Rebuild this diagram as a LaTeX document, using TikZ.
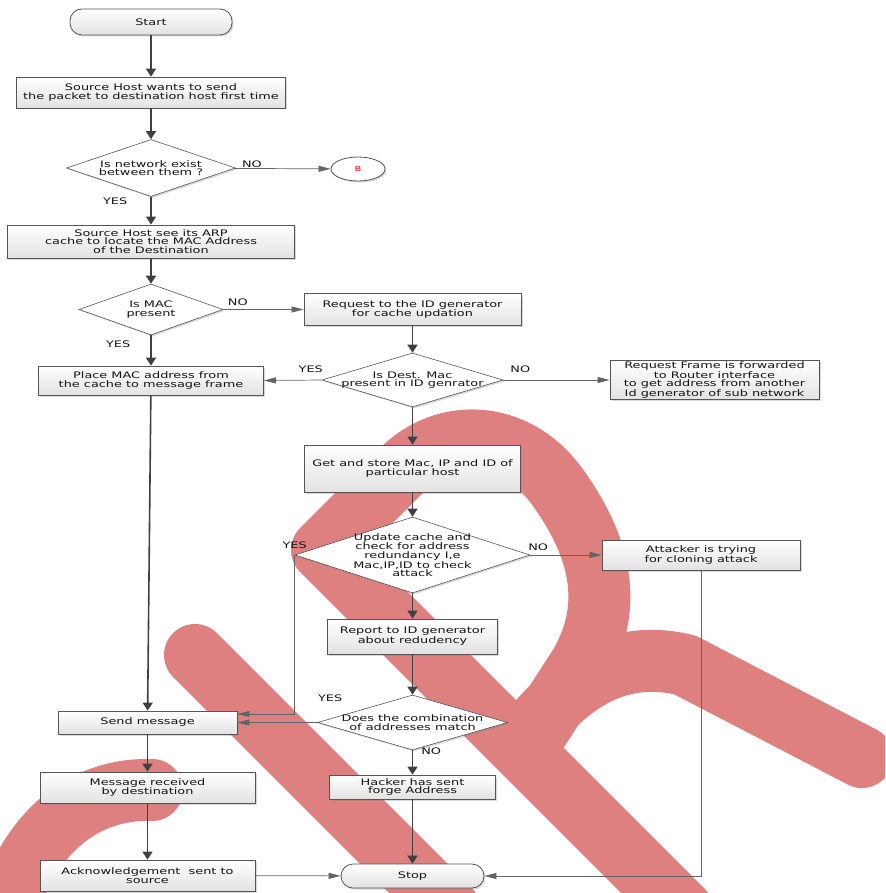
\documentclass[tikz,border=0pt]{standalone}
\usepackage{fontspec}
\newfontfamily\chartfont[FakeStretch=1.43]{DejaVu Sans}
\usetikzlibrary{arrows.meta,shapes.geometric,shadows}
\definecolor{wmred}{RGB}{222,128,128}
\definecolor{boxline}{RGB}{85,85,85}
\definecolor{boxfill}{RGB}{226,226,226}
\definecolor{arrowgray}{RGB}{64,64,64}
\definecolor{linegray}{RGB}{100,100,100}
\definecolor{txtgray}{RGB}{20,20,20}
\tikzset{%
  >={Triangle[width=10pt,length=8pt]},
  % Specifications for style of nodes:
            base/.style = {draw=boxline, line width=0.8pt, text=txtgray,
                           align=center, inner sep=1pt,
                           font=\chartfont\fontsize{9pt}{8.6pt}\selectfont,
                           drop shadow={shadow xshift=1.5pt, shadow yshift=-1.5pt,
                                        opacity=0.3}},
         process/.style = {base, rectangle, top color=white, bottom color=boxfill},
        terminal/.style = {process, rounded corners=12pt},
        decision/.style = {base, diamond, fill=white, aspect=3, line width=0.6pt,
                           inner xsep=-15pt, inner ysep=-4pt},
       connector/.style = {base, ellipse, fill=white, text=red,
                           font=\chartfont\fontsize{7pt}{8pt}\selectfont},
  % Specifications for style of lines and answers
            flow/.style = {->, draw=arrowgray, line width=1.6pt},
            link/.style = {-{Triangle[width=6pt,length=12pt]}, draw=linegray,
                           line width=0.7pt},
          answer/.style = {text=txtgray, inner sep=1pt,
                           font=\chartfont\fontsize{9pt}{8.6pt}\selectfont},
       watermark/.style = {draw=wmred, line width=62pt, line cap=round,
                           line join=round},
}

\begin{document}
\begin{tikzpicture}[x=1pt, y=-1pt, node distance=72pt]

  \fill[white] (0,0) rectangle (885,893);

  % Watermark behind the chart
  \begin{scope}
    \clip (0,0) rectangle (885,893);
    \draw[watermark] (195,655) -- (450,910);
    \draw[watermark] (683,911) -- (322,550) -- (402,470)
      .. controls (445,427) and (515,430) .. (556,485)
      .. controls (600,545) and (615,605) .. (580,665) -- (535,735);
    \draw[watermark] (522,742) .. controls (565,685) and (615,648) .. (685,665)
      -- (862,757);
    \draw[watermark] (5,915) .. controls (30,830) and (85,788) .. (152,790);
  \end{scope}

  % Specification of nodes (position, etc.)
  \node (start)      at (151,22) [terminal, minimum width=162pt, minimum height=26pt] {Start};
  \node (srcHost)    [process, below of=start, yshift=1.5pt,
                      minimum width=269pt, minimum height=31pt]
                     {Source Host wants to send\\the packet to destination host first time};
  \node (netExist)   [decision, below of=srcHost, yshift=-3.5pt,
                      minimum width=169pt, minimum height=57pt]
                     {Is network exist\\between them ?};
  \node (nodeB)      [connector, right of=netExist, xshift=135pt, yshift=-1pt,
                      minimum width=54pt, minimum height=24pt] {B};
  \node (arpCache)   [process, below of=netExist, yshift=-1.5pt,
                      minimum width=287pt, minimum height=33pt]
                     {Source Host see its ARP\\cache to locate the MAC Address\\of the Destination};
  \node (macPresent) [decision, below of=arpCache, yshift=4pt,
                      minimum width=144pt, minimum height=51pt] {Is MAC\\present};
  \node (placeMac)   [process, below of=macPresent, yshift=1pt,
                      minimum width=225pt, minimum height=29pt]
                     {Place MAC address from\\the cache to message frame};

  \node (reqId)      [process, right of=macPresent, xshift=189.5pt,
                      minimum width=217pt, minimum height=32pt]
                     {Request to the ID generator\\for cache updation};
  \node (destMac)    [decision, below of=reqId, yshift=1.5pt,
                      minimum width=181pt, minimum height=54pt]
                     {Is Dest. Mac\\present in ID genrator};
  \node (reqFrame)   [process, right of=destMac, xshift=230pt,
                      minimum width=209pt, minimum height=39pt]
                     {Request Frame is forwarded\\to Router interface\\to get address from another\\Id generator of sub network};
  \node (getStore)   [process, below of=destMac, yshift=-16.5pt,
                      minimum width=216pt, minimum height=47pt]
                     {Get and store Mac, IP and ID of\\particular host};
  \node (updCache)   [decision, below of=getStore, yshift=-14.5pt,
                      minimum width=235pt, minimum height=76pt]
                     {Update cache and\\check for address\\redundancy I,e\\Mac,IP,ID to check\\attack};
  \node (attacker)   [process, right of=updCache, xshift=216.5pt,
                      minimum width=198pt, minimum height=30pt]
                     {Attacker is trying\\for cloning attack};
  \node (report)     [process, below of=updCache, yshift=-9.5pt,
                      minimum width=170pt, minimum height=35pt]
                     {Report to ID generator\\about redudency};
  \node (combMatch)  [decision, below of=report, yshift=-14pt,
                      minimum width=190pt, minimum height=55pt]
                     {Does the combination\\of addresses match};
  \node (hacker)     [process, below of=combMatch, yshift=7.5pt,
                      minimum width=166pt, minimum height=24pt]
                     {Hacker has sent\\forge Address};
  \node (stop)       [terminal, below of=hacker, yshift=-17pt,
                      minimum width=143pt, minimum height=24pt] {Stop};

  \node (sendMsg)    [process, left of=combMatch, xshift=-193pt,
                      minimum width=179pt, minimum height=23pt] {Send message};
  \node (msgRecv)    [process, below of=sendMsg, yshift=7pt,
                      minimum width=215pt, minimum height=31pt]
                     {Message received\\by destination};
  \node (ackSent)    [process, below of=msgRecv, yshift=-16pt,
                      minimum width=215pt, minimum height=31pt]
                     {Acknowledgement\ \ sent to\\source};

  % Specification of lines between nodes specified above
  \draw[flow] (start) -- (srcHost);
  \draw[flow] (srcHost) -- (netExist);
  \draw[link] (netExist) -- node[answer, pos=0.18, above] {NO} (nodeB);
  \draw[flow] (netExist) -- node[answer, pos=0.15, left=22pt] {YES} (arpCache);
  \draw[flow] (arpCache) -- (macPresent);
  \draw[link] (macPresent) -- node[answer, pos=0.18, above=3pt] {NO} (reqId);
  \draw[flow] (macPresent) -- node[answer, pos=0.3, left=19pt] {YES} (placeMac);
  \draw[flow] (reqId) -- (destMac);
  \draw[link] (destMac.west) -- node[answer, pos=0.19, above=6pt] {YES} (placeMac.east);
  \draw[link] (destMac) -- node[answer, pos=0.16, above=6pt] {NO} (reqFrame);
  \draw[flow] (destMac) -- (getStore);
  \draw[flow] (getStore) -- (updCache);
  \draw[link] (updCache) -- node[answer, pos=0.11, above=3pt] {NO} (attacker);
  \draw[link] (updCache.west) node[answer, above=5pt] {YES}
                |- ([yshift=8.5pt]sendMsg.east);
  \draw[flow] (updCache) -- (report);
  \draw[flow] (report) -- (combMatch);
  \draw[link] (combMatch.west) node[answer, xshift=13pt, yshift=24pt] {YES}
                -- (sendMsg.east);
  \draw[flow] (combMatch) -- node[answer, pos=0.05, right=7pt] {NO} (hacker);
  \draw[flow] (hacker) -- (stop);
  \draw[flow] (placeMac) -- (sendMsg);
  \draw[flow] (sendMsg) -- (msgRecv);
  \draw[flow] (msgRecv) -- (ackSent);
  \draw[link] (ackSent) -- (stop);
  \draw[link] (attacker) |- (stop);

\end{tikzpicture}
\end{document}
